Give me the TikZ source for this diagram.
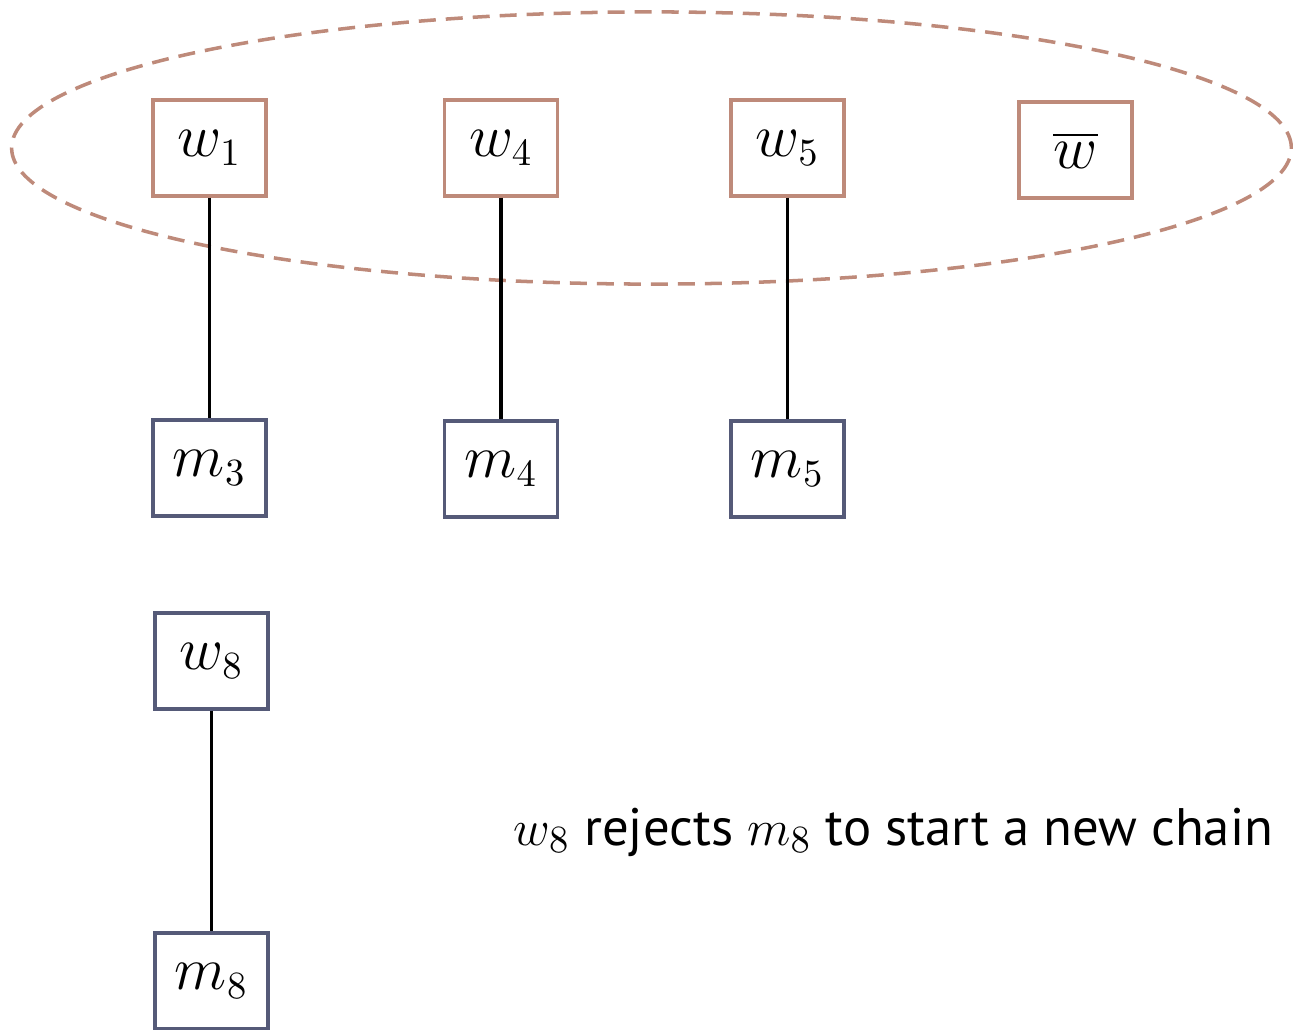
\documentclass[tikz,border=0pt]{standalone}
\usepackage{amsmath, amssymb}
\usepackage{fontspec}
\setsansfont{PT Sans}
\usepackage{tikz}

\definecolor{wbrown}{RGB}{190,138,122}
\definecolor{mblue}{RGB}{85,90,120}

\tikzset{
	wbox/.style={draw=wbrown, line width=0.9pt, minimum width=1.13cm, minimum height=0.96cm, font=\fontsize{16}{18}\selectfont},
	mbox/.style={draw=mblue, line width=0.9pt, minimum width=1.13cm, minimum height=0.96cm, font=\fontsize{16}{18}\selectfont},
	pairline/.style={draw=black, line width=0.9pt}
}

\begin{document}
\begin{tikzpicture}[x=0.01cm, y=-0.01cm]
	\useasboundingbox (0,0) rectangle (1293,1030);
	\draw[wbrown, line width=1pt, dash pattern=on 0.17cm off 0.1cm] (651.5,148) ellipse [x radius=6.395cm, y radius=1.36cm];
	\node[wbox] (w1) at (209.5,148) {$w_1$};
	\node[wbox] (w4) at (501,148) {$w_4$};
	\node[wbox] (w5) at (787.5,148) {$w_5$};
	\node[wbox] (wbar) at (1075.5,150) {$\overline{w}$};
	\node[mbox] (m3) at (209.5,468) {$m_3$};
	\node[mbox] (m4) at (501,469) {$m_4$};
	\node[mbox] (m5) at (787.5,469) {$m_5$};
	\node[mbox] (w8) at (211.5,661) {$w_8$};
	\node[mbox] (m8) at (211.5,981) {$m_8$};
	\draw[pairline] (w1) -- (m3);
	\draw[pairline] (w4) -- (m4);
	\draw[pairline] (w5) -- (m5);
	\draw[pairline] (w8) -- (m8);
	\node[font=\sffamily\fontsize{15}{18}\selectfont, anchor=west, inner sep=0pt] (note) at (513,832) {$w_8$ rejects $m_8$ to start a new chain};
\end{tikzpicture}
\end{document}
